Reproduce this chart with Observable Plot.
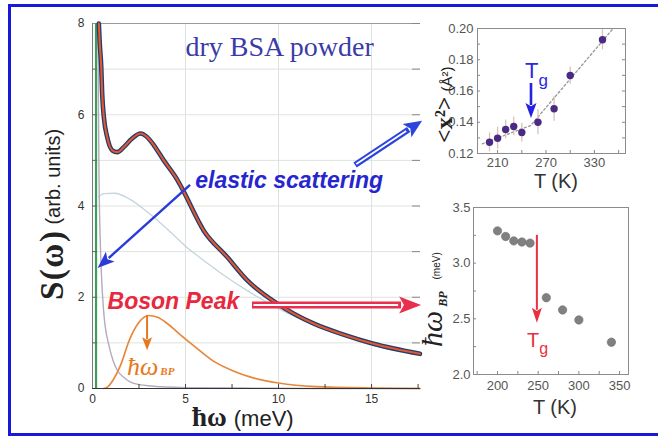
<!DOCTYPE html>
<html><head><meta charset="utf-8">
<script src="https://cdn.jsdelivr.net/npm/d3@7"></script>
<script src="https://cdn.jsdelivr.net/npm/@observablehq/plot@0.6"></script>
<style>
html,body{margin:0;padding:0;background:#fff;overflow:hidden}
#wrap{position:relative;width:658px;height:437px;overflow:hidden;background:#fff}
#wrap svg{position:absolute;left:0;top:0}
#border{position:absolute;left:8px;top:4px;width:700px;height:432px;border:3.5px solid #1818dc;box-sizing:border-box}
</style></head><body><div id="wrap"><div id="border"></div></div>
<script>
// ---------------- data ----------------
// main spectrum: total S(omega), data + fit
const omegaTotal = [0.34,0.39,0.47,0.52,0.61,0.79,1.06,1.33,1.68,2.13,2.58,2.94,3.30,3.83,4.55,4.82,5.98,7.24,8.32,9.93,11.9,13.5,15.1,17.6];
const sTotal     = [8.0,7.56,7.05,6.46,5.95,5.51,5.22,5.18,5.29,5.48,5.59,5.51,5.33,5.00,4.58,4.38,3.46,2.88,2.37,1.86,1.42,1.18,0.98,0.76];
// quasi-elastic component (grey)
const omegaQE = [0.30,0.32,0.35,0.38,0.47,0.61,0.88,1.10,1.33,1.70,2.04,3.0,5.0,8.0,12.0,17.6];
const sQE     = [8.0,6.2,4.6,3.84,2.60,1.64,0.95,0.62,0.40,0.24,0.14,0.06,0.02,0.01,0.0,0.0];
// broad component (light blue)
const omegaBroad = [0.32,0.6,1.2,2.0,3.0,4.0,5.0,6.0,7.0,8.3,10.0,12.0,15.0,17.6];
const sBroad     = [4.20,4.27,4.28,4.15,3.85,3.50,3.12,2.80,2.50,2.15,1.75,1.38,0.95,0.74];
// boson peak component (orange)
const omegaBP = [0.6,0.8,1.1,1.5,2.0,2.5,3.0,3.5,4.0,4.6,5.4,6.5,7.6,8.5,10.0,12.0,15.0,17.6];
const sBP     = [0.0,0.03,0.18,0.50,1.08,1.45,1.60,1.56,1.43,1.22,0.95,0.60,0.38,0.25,0.12,0.04,0.01,0.0];
// elastic line (green)
const elasticCenter = [0.19];
const xTicksMain = [0,5,10,15];
const xMinorMain = [2.5,5,7.5,10,12.5,15,17.5];
const yTicksMain = [0,2,4,6,8];
const yMinorMain = [1,2,3,4,5,6,7];
const gridXMain = [5,10,15];
const gridYMain = [1,2,3,4,5,6,7];

// inset 1: mean square displacement vs T
const T_msd  = [200,210,220,230,240,260,280,300,340];
const msd    = [0.1272,0.1298,0.1354,0.1373,0.1334,0.1400,0.1486,0.1699,0.1928];
const msdErr = [0.006,0.007,0.006,0.006,0.006,0.008,0.008,0.0055,0.0065];
const msdFitT = [191,251,352];
const msdFitV = [0.1262,0.1379,0.1993];
const msdXTicks = [210,270,330];
const msdXMinor = [210,240,270,300,330,360];
const msdYTicks = [0.12,0.14,0.16,0.18,0.20];
const msdYMinor = [0.13,0.14,0.15,0.16,0.17,0.18,0.19];

// inset 2: boson peak energy vs T
const T_bp = [200,210,220,230,240,260,280,300,340];
const wBP  = [3.29,3.24,3.20,3.19,3.18,2.69,2.58,2.49,2.29];
const bpXTicks = [200,250,300,350];
const bpXMinor = [175,200,225,250,275,300,325,350];
const bpYTicks = [2.0,2.5,3.0,3.5];
const bpYMinor = [2.25,2.5,2.75,3.0,3.25];

// ---------------- build ----------------
const rows = (xs, ys) => xs.map((x,i)=>({x, y:ys[i]}));
const total = rows(omegaTotal, sTotal);
const qe = rows(omegaQE, sQE);
const broad = rows(omegaBroad, sBroad);
const bp = rows(omegaBP, sBP);
const msdRows = T_msd.map((T,i)=>({T, v:msd[i], e:msdErr[i]}));
const msdFit = rows(msdFitT, msdFitV);
const bpRows = rows(T_bp, wBP);

const sans = "'Liberation Sans', Arial, sans-serif";
const serif = "'Liberation Serif', 'Times New Roman', serif";
const base = {width:658, height:437, style:{background:"transparent", fontFamily:sans, fontSize:"12px", overflow:"visible"}};
const wrap = document.getElementById("wrap");

// ---- main plot ----
const mainW = 658-92-238, mainH = 437-23-49;
const main = Plot.plot({
  ...base,
  marginLeft:92, marginRight:238, marginTop:23, marginBottom:49,
  x:{domain:[0,17.63], label:null},
  y:{domain:[0,8], label:null},
  marks:[
    Plot.ruleY(gridYMain, {y:d=>d, stroke:"#dde3dd"}),
    Plot.ruleX(gridXMain, {x:d=>d, stroke:"#dde3dd"}),
    Plot.ruleY([8], {y:d=>d, stroke:"#9a9a9a"}),
    Plot.ruleX([0], {x:d=>d, stroke:"#7a7a7a"}),
    Plot.line(broad, {x:"x", y:"y", stroke:"#c3d5df", strokeWidth:1.3, curve:"monotone-x"}),
    Plot.line(qe, {x:"x", y:"y", stroke:"#b4abbf", strokeWidth:1.4, curve:"monotone-x"}),
    Plot.line(bp, {x:"x", y:"y", stroke:"#e8873a", strokeWidth:1.7, curve:"monotone-x"}),
    Plot.ruleX(elasticCenter, {x:d=>d, y1:0, y2:8, stroke:"#3c9e58", strokeWidth:2.2}),
    Plot.line(total, {x:"x", y:"y", stroke:"#1e3e6e", strokeWidth:4.6, curve:"monotone-x"}),
    Plot.line(total, {x:"x", y:"y", stroke:"#e5552e", strokeWidth:2.1, curve:"monotone-x"}),
    Plot.ruleY([0], {y:d=>d, stroke:"#333", strokeWidth:1.2}),
    Plot.tickX(xMinorMain, {x:d=>d, insetTop:mainH-4, stroke:"#444"}),
    Plot.tickY(yMinorMain, {y:d=>d, insetRight:mainW-5, stroke:"#666"}),
    Plot.tickY(yMinorMain.concat([8]), {y:d=>d, insetLeft:mainW-8, stroke:"#888"}),
    Plot.axisX(xTicksMain, {tickSize:0, tickPadding:6, fontSize:12, color:"#333", label:null}),
    Plot.axisY(yTicksMain, {tickSize:0, tickPadding:8, fontSize:12, color:"#333", label:null}),
    Plot.text([{x:5.0, y:7.48, t:"dry BSA powder"}], {x:"x", y:"y", text:"t", textAnchor:"start", fontFamily:serif, fontSize:28, fill:"#3b3ba8"}),
    Plot.text([{x:5.52, y:4.55, t:"elastic scattering"}], {x:"x", y:"y", text:"t", textAnchor:"start", fontFamily:sans, fontSize:23, fontWeight:"bold", fontStyle:"italic", fill:"#2626d0"}),
    Plot.text([{x:0.81, y:1.895, t:"Boson Peak"}], {x:"x", y:"y", text:"t", textAnchor:"start", fontFamily:sans, fontSize:23, fontWeight:"bold", fontStyle:"italic", fill:"#e8283e"})
  ]
});
wrap.appendChild(main);

// ---- inset 1 ----
const t1W = 148, t1H = 125;
const top1 = Plot.plot({
  ...base,
  marginLeft:477, marginRight:33, marginTop:28, marginBottom:284,
  x:{domain:[185.1,368.5], label:null},
  y:{domain:[0.12,0.20], label:null},
  marks:[
    Plot.frame({stroke:"#8c8c8c"}),
    Plot.tickY(msdYMinor, {y:d=>d, insetRight:t1W-3, stroke:"#888"}),
    Plot.tickY(msdYMinor, {y:d=>d, insetLeft:t1W-3, stroke:"#888"}),
    Plot.tickX(msdXMinor, {x:d=>d, insetTop:t1H-3, stroke:"#888"}),
    Plot.line(msdFit, {x:"x", y:"y", stroke:"#9a9a9a", strokeWidth:1.4, strokeDasharray:"2 2.5"}),
    Plot.ruleX(msdRows, {x:"T", y1:d=>d.v-d.e, y2:d=>d.v+d.e, stroke:"#d9c3b6", strokeWidth:1.3}),
    Plot.dot(msdRows, {x:"T", y:"v", r:3.7, fill:"#4a2a84"}),
    Plot.axisX(msdXTicks, {tickSize:0, tickPadding:4, fontSize:13, color:"#555", label:null}),
    Plot.axisY(msdYTicks, {tickSize:0, tickPadding:4, fontSize:13, color:"#555", label:null, tickFormat:d3.format(".2f")})
  ]
});
wrap.appendChild(top1);

// ---- inset 2 ----
const t2W = 155, t2H = 167;
const bot = Plot.plot({
  ...base,
  marginLeft:473, marginRight:30, marginTop:207, marginBottom:63,
  x:{domain:[170.5,361], label:null},
  y:{domain:[2.0,3.5], label:null},
  marks:[
    Plot.frame({stroke:"#8c8c8c"}),
    Plot.tickY(bpYMinor, {y:d=>d, insetRight:t2W-3, stroke:"#888"}),
    Plot.tickX(bpXMinor, {x:d=>d, insetTop:t2H-3, stroke:"#888"}),
    Plot.dot(bpRows, {x:"x", y:"y", r:4.2, fill:"#808080", stroke:"#6e6e6e", strokeWidth:0.6}),
    Plot.axisX(bpXTicks, {tickSize:0, tickPadding:6, fontSize:13, color:"#555", label:null}),
    Plot.axisY(bpYTicks, {tickSize:0, tickPadding:3, fontSize:13, color:"#555", label:null, tickFormat:d3.format(".1f")})
  ]
});
wrap.appendChild(bot);

// ---- annotations (arrows, mixed-font labels) ----
function arrow(svg, sx, sy, a, b, color, w, hl, hw, dbl){
  const x1=sx(a[0]), y1=sy(a[1]), x2=sx(b[0]), y2=sy(b[1]);
  const dx=x2-x1, dy=y2-y1, L=Math.hypot(dx,dy), ux=dx/L, uy=dy/L;
  const bx=x2-ux*hl, by=y2-uy*hl;
  const g = svg.append("g");
  g.append("line").attr("x1",x1).attr("y1",y1).attr("x2",bx+ux*2).attr("y2",by+uy*2)
    .attr("stroke",color).attr("stroke-width",w);
  if (dbl) g.append("line").attr("x1",x1+ux*1.5).attr("y1",y1+uy*1.5).attr("x2",bx-ux*1).attr("y2",by-uy*1)
    .attr("stroke","#fff").attr("stroke-width",w*0.3);
  g.append("path").attr("d",
    `M${x2},${y2}L${bx-uy*hw/2},${by+ux*hw/2}L${bx+ux*hl*0.22},${by+uy*hl*0.22}L${bx+uy*hw/2},${by-ux*hw/2}Z`)
    .attr("fill",color);
}
function label(svg, x, y, rot){
  return svg.append("text").attr("text-anchor","start")
    .attr("transform", `translate(${x},${y})` + (rot ? ` rotate(${rot})` : ""));
}
const mx = v => main.scale("x").apply(v), my = v => main.scale("y").apply(v);
const ms = d3.select(main);
arrow(ms, mx, my, [5.27,4.45], [0.30,2.63], "#2b3bd8", 2.4, 17, 13, false);
arrow(ms, mx, my, [14.14,4.89], [17.74,5.86], "#2a44dc", 6, 18, 16, true);
arrow(ms, mx, my, [8.6,1.82], [17.69,1.82], "#e8304e", 7, 22, 17, true);
arrow(ms, mx, my, [2.96,1.60], [2.96,0.83], "#e87820", 2, 13, 10, false);

// main x label
const xl = label(ms, 192, 426).attr("fill","#222");
xl.append("tspan").attr("font-family",serif).attr("font-weight","bold").attr("font-size",27).text("ħω");
xl.append("tspan").attr("font-family",sans).attr("font-size",22).attr("dx",7).text("(meV)");
// main y label
const yl = label(ms, 60, 300, -90).attr("fill","#222");
yl.append("tspan").attr("font-family",serif).attr("font-weight","bold").attr("font-size",33).attr("letter-spacing",1.5).attr("dy",3).text("S(ω)");
yl.append("tspan").attr("font-family",sans).attr("font-size",20).attr("dx",5).attr("dy",-3).text("(arb. units)");
// orange ħω_BP
const ob = label(ms, 127, 375).attr("fill","#e87820");
ob.append("tspan").attr("font-family",serif).attr("font-style","italic").attr("font-size",26).text("ħω");
ob.append("tspan").attr("font-family",serif).attr("font-style","italic").attr("font-weight","bold").attr("font-size",11).attr("dx",2).text("BP");

// inset 1 annotations
const ax1 = v => top1.scale("x").apply(v), ay1 = v => top1.scale("y").apply(v);
const s1 = d3.select(top1);
arrow(s1, ax1, ay1, [252,0.1648], [252,0.1424], "#2222e0", 2.6, 15, 11, false);
const tg1 = label(s1, 525, 78).attr("fill","#2a2ae0").attr("font-family",sans);
tg1.append("tspan").attr("font-size",22).text("T");
tg1.append("tspan").attr("font-size",17).attr("dy",8).text("g");
const yl1 = label(s1, 452, 143, -90).attr("fill","#222");
yl1.append("tspan").attr("font-family",serif).attr("font-weight","bold").attr("font-size",24).text("<x²>");
yl1.append("tspan").attr("font-family",sans).attr("font-size",15).attr("dx",5).text("(Å²)");
s1.append("text").attr("x",556).attr("y",188).attr("text-anchor","middle").attr("font-family",sans).attr("font-size",20).attr("fill","#333").text("T (K)");

// inset 2 annotations
const ax2 = v => bot.scale("x").apply(v), ay2 = v => bot.scale("y").apply(v);
const s2 = d3.select(bot);
arrow(s2, ax2, ay2, [249,3.25], [249,2.46], "#e83040", 2, 15, 10, false);
const tg2 = label(s2, 527, 347).attr("fill","#e83040").attr("font-family",sans);
tg2.append("tspan").attr("font-size",20).text("T");
tg2.append("tspan").attr("font-size",16).attr("dy",7).text("g");
const yl2 = label(s2, 442, 347, -90).attr("fill","#222");
yl2.append("tspan").attr("font-family",serif).attr("font-style","italic").attr("font-size",30).text("ħω");
yl2.append("tspan").attr("font-family",serif).attr("font-style","italic").attr("font-weight","bold").attr("font-size",12).attr("dx",4).attr("dy",5).text("BP");
yl2.append("tspan").attr("font-family",sans).attr("font-size",10).attr("dx",12).attr("dy",-7).text("(meV)");
s2.append("text").attr("x",555).attr("y",414).attr("text-anchor","middle").attr("font-family",sans).attr("font-size",20).attr("fill","#333").text("T (K)");
</script></body></html>
